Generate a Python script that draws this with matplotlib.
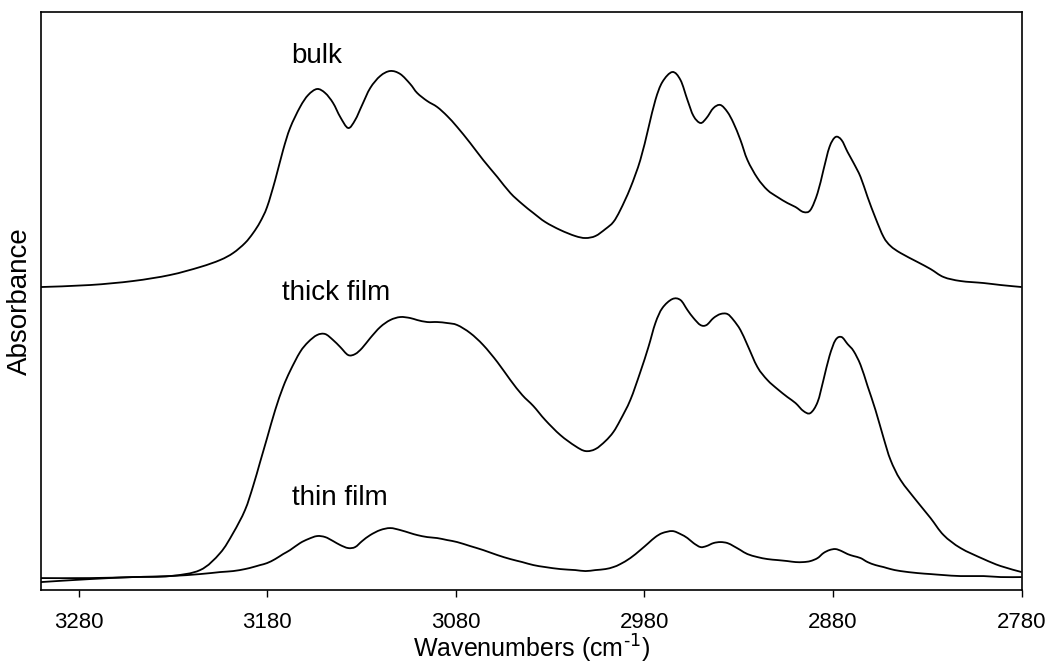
import matplotlib.pyplot as plt
import numpy as np
from matplotlib.path import Path
from matplotlib.patches import PathPatch

plt.rcParams["font.family"] = ["Liberation Sans", "DejaVu Sans"]
plt.rcParams["mathtext.default"] = "regular"

# Wavenumbers (cm-1)
wavenumber = [
    3300.0, 3274.0, 3251.2, 3231.6, 3215.6, 3205.0, 3198.1, 3191.8, 3187.5, 3183.8,
    3180.1, 3175.8, 3171.6, 3167.9, 3162.6, 3158.3, 3153.6, 3149.3, 3145.1, 3141.3,
    3137.1, 3133.4, 3129.7, 3125.4, 3120.1, 3114.8, 3109.5, 3104.2, 3100.5, 3095.2,
    3089.9, 3084.6, 3079.3, 3072.4, 3065.5, 3058.0, 3051.1, 3044.8, 3038.9, 3032.6,
    3024.6, 3016.7, 3011.3, 3006.0, 3000.7, 2996.5, 2992.8, 2987.5, 2982.2, 2977.9,
    2974.2, 2970.5, 2965.2, 2960.9, 2957.2, 2954.0, 2950.3, 2947.1, 2943.4, 2939.7,
    2936.0, 2932.8, 2929.1, 2925.4, 2920.1, 2914.8, 2909.5, 2904.2, 2899.9, 2895.7,
    2892.0, 2888.2, 2885.1, 2881.9, 2878.7, 2875.5, 2872.3, 2869.1, 2865.4, 2861.7,
    2857.5, 2853.2, 2849.5, 2844.2, 2835.2, 2828.3, 2821.4, 2812.4, 2800.2, 2791.1,
    2780.0,
]

# absorbance (arb. units, spectra offset as in the figure)
bulk = [
    3.03, 3.05, 3.09, 3.15, 3.23, 3.30, 3.37, 3.47, 3.57, 3.68,
    3.83, 4.10, 4.40, 4.62, 4.83, 4.95, 5.01, 4.97, 4.87, 4.73,
    4.62, 4.70, 4.85, 5.02, 5.14, 5.19, 5.16, 5.06, 4.97, 4.89,
    4.83, 4.74, 4.63, 4.47, 4.30, 4.13, 3.97, 3.86, 3.77, 3.68,
    3.60, 3.54, 3.52, 3.54, 3.61, 3.68, 3.80, 4.02, 4.30, 4.62,
    4.90, 5.08, 5.18, 5.10, 4.90, 4.74, 4.67, 4.72, 4.82, 4.85,
    4.78, 4.67, 4.50, 4.30, 4.12, 4.00, 3.93, 3.87, 3.83, 3.78,
    3.80, 3.97, 4.20, 4.43, 4.53, 4.50, 4.38, 4.27, 4.13, 3.93,
    3.72, 3.53, 3.44, 3.37, 3.28, 3.21, 3.13, 3.09, 3.07, 3.05,
    3.03,
]

thick_film = [
    0.08, 0.11, 0.13, 0.14, 0.20, 0.37, 0.57, 0.80, 1.04, 1.28,
    1.52, 1.80, 2.03, 2.19, 2.38, 2.48, 2.55, 2.56, 2.50, 2.43,
    2.35, 2.36, 2.42, 2.52, 2.63, 2.70, 2.73, 2.72, 2.70, 2.68,
    2.68, 2.67, 2.65, 2.57, 2.45, 2.28, 2.10, 1.95, 1.84, 1.70,
    1.55, 1.44, 1.39, 1.41, 1.49, 1.58, 1.70, 1.90, 2.18, 2.43,
    2.67, 2.82, 2.91, 2.90, 2.80, 2.72, 2.65, 2.65, 2.72, 2.76,
    2.76, 2.70, 2.60, 2.45, 2.23, 2.10, 2.01, 1.93, 1.87, 1.79,
    1.77, 1.88, 2.10, 2.34, 2.50, 2.53, 2.46, 2.39, 2.25, 2.04,
    1.80, 1.52, 1.30, 1.10, 0.88, 0.72, 0.55, 0.42, 0.31, 0.24,
    0.18,
]

thin_film = [
    0.12, 0.12, 0.13, 0.14, 0.16, 0.18, 0.19, 0.21, 0.23, 0.25,
    0.27, 0.31, 0.36, 0.40, 0.47, 0.51, 0.54, 0.53, 0.49, 0.45,
    0.42, 0.43, 0.49, 0.55, 0.60, 0.62, 0.60, 0.57, 0.55, 0.53,
    0.52, 0.50, 0.48, 0.44, 0.40, 0.35, 0.31, 0.28, 0.25, 0.23,
    0.21, 0.20, 0.19, 0.20, 0.21, 0.23, 0.26, 0.32, 0.40, 0.47,
    0.53, 0.57, 0.59, 0.56, 0.52, 0.47, 0.43, 0.44, 0.47, 0.48,
    0.47, 0.44, 0.40, 0.36, 0.33, 0.31, 0.30, 0.29, 0.28, 0.28,
    0.29, 0.32, 0.37, 0.40, 0.41, 0.39, 0.36, 0.34, 0.32, 0.28,
    0.25, 0.23, 0.21, 0.19, 0.17, 0.16, 0.15, 0.14, 0.14, 0.13,
    0.13,
]

xticks = [3280, 3180, 3080, 2980, 2880, 2780]


def smooth_path(x, y):
    # line through the points, drawn as Catmull-Rom style bezier segments
    p = np.column_stack([x, y])
    verts = [p[0]]
    codes = [Path.MOVETO]
    for i in range(len(p) - 1):
        p0 = p[i - 1] if i > 0 else p[i]
        p3 = p[i + 2] if i + 2 < len(p) else p[i + 1]
        c1 = p[i] + (p[i + 1] - p0) / 6
        c2 = p[i + 1] - (p3 - p[i]) / 6
        verts += [c1, c2, p[i + 1]]
        codes += [Path.CURVE4] * 3
    return Path(verts, codes)


fig = plt.figure(figsize=(10.5, 6.66), dpi=100)
ax = fig.add_axes([0.039, 0.114, 0.934, 0.868])

for y in (bulk, thick_film, thin_film):
    ax.add_patch(PathPatch(smooth_path(wavenumber, y), fill=False,
                           edgecolor="black", lw=1.3, clip_on=True))

ax.text(3153.6, 5.27, "bulk", fontsize=20, ha="center", va="baseline")
ax.text(3143.5, 2.90, "thick film", fontsize=20, ha="center", va="baseline")
ax.text(3141.3, 0.85, "thin film", fontsize=20, ha="center", va="baseline")

ax.set_xlim(3300, 2780)
ax.set_ylim(0, 5.78)
ax.set_xticks(xticks)
ax.set_yticks([])
ax.tick_params(axis="x", direction="out", length=5, width=1, pad=11, labelsize=16)
for s in ax.spines.values():
    s.set_linewidth(1.2)

ax.set_xlabel(r"Wavenumbers (cm$^{\text{-1}}$)", fontsize=18, labelpad=0)
ax.set_ylabel("Absorbance", fontsize=20, labelpad=6)

plt.savefig("out.png", dpi=100)
